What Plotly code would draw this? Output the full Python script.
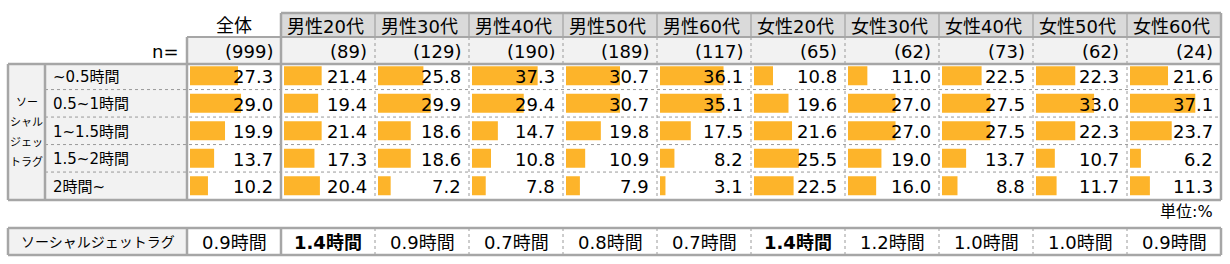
import plotly.graph_objects as go

# ---------------- data ----------------
columns = ["全体", "男性20代", "男性30代", "男性40代", "男性50代", "男性60代",
           "女性20代", "女性30代", "女性40代", "女性50代", "女性60代"]
n_values = [999, 89, 129, 190, 189, 117, 65, 62, 73, 62, 24]
row_labels = ["~0.5時間", "0.5~1時間", "1~1.5時間", "1.5~2時間", "2時間~"]
side_label = ["ソー", "シャル", "ジェッ", "トラグ"]

v_all = [27.3, 29.0, 19.9, 13.7, 10.2]
v_m20 = [21.4, 19.4, 21.4, 17.3, 20.4]
v_m30 = [25.8, 29.9, 18.6, 18.6, 7.2]
v_m40 = [37.3, 29.4, 14.7, 10.8, 7.8]
v_m50 = [30.7, 30.7, 19.8, 10.9, 7.9]
v_m60 = [36.1, 35.1, 17.5, 8.2, 3.1]
v_f20 = [10.8, 19.6, 21.6, 25.5, 22.5]
v_f30 = [11.0, 27.0, 27.0, 19.0, 16.0]
v_f40 = [22.5, 27.5, 27.5, 13.7, 8.8]
v_f50 = [22.3, 33.0, 22.3, 10.7, 11.7]
v_f60 = [21.6, 37.1, 23.7, 6.2, 11.3]
series = [v_all, v_m20, v_m30, v_m40, v_m50, v_m60, v_f20, v_f30, v_f40, v_f50, v_f60]

summary_label = "ソーシャルジェットラグ"
summary_hours = [0.9, 1.4, 0.9, 0.7, 0.8, 0.7, 1.4, 1.2, 1.0, 1.0, 0.9]
unit_text = "単位:%"

# ---------------- geometry / style ----------------
W, H = 1230, 264
COL0, COLW = 187, 94
LEFT, LABX = 8, 45
HDR_TOP, HDR_BOT, DATA_TOP, DATA_BOT = 13, 37, 64, 200
SUM_TOP, SUM_BOT = 228, 255
ROW0, ROWH = 75.8, 27.5
BAR_PAD, BAR_SPAN, AX_MAX = 3, 88, 50

FONT = "DejaVu Sans, Noto Sans CJK JP, sans-serif"
BAR_C = "#FDB42A"
LINE_C = "#A6A6A6"
DOT_C = "#9A9A9A"
HDR_FILL = "#DADADA"
LIGHT_FILL = "#F2F2F2"


def px(x):
    return x / W


def py(y):
    return 1 - y / H


def row_y(i):
    return ROW0 + ROWH * i


fig = go.Figure()
ncol = len(columns)

layout_axes = {}
for c, vals in enumerate(series):
    ax = "x" if c == 0 else f"x{c + 1}"
    left = COL0 + c * COLW + BAR_PAD
    fig.add_trace(go.Bar(
        x=vals, y=row_labels, orientation="h", xaxis=ax, yaxis="y",
        marker=dict(color=BAR_C, line=dict(width=0)), showlegend=False,
        hoverinfo="skip"))
    key = "xaxis" if c == 0 else f"xaxis{c + 1}"
    layout_axes[key] = dict(domain=[px(left), px(left + BAR_SPAN)], range=[0, AX_MAX],
                            visible=False, fixedrange=True, anchor="y")

ytop = row_y(0) - ROWH / 2
ybot = row_y(len(row_labels) - 1) + ROWH / 2
layout_axes["yaxis"] = dict(domain=[py(ybot), py(ytop)], type="category",
                            categoryorder="array", categoryarray=row_labels,
                            range=[len(row_labels) - 0.5, -0.5], visible=False,
                            fixedrange=True)

shapes = []


def rect(x0, y0, x1, y1, fill, line_w=0, line_c=LINE_C):
    shapes.append(dict(type="rect", xref="paper", yref="paper", x0=px(x0), x1=px(x1),
                       y0=py(y1), y1=py(y0), fillcolor=fill, layer="below",
                       line=dict(width=line_w, color=line_c)))


def line(x0, y0, x1, y1, w=2.5, c=LINE_C, dash="solid", layer="above"):
    shapes.append(dict(type="line", xref="paper", yref="paper", x0=px(x0), x1=px(x1),
                       y0=py(y0), y1=py(y1), layer=layer,
                       line=dict(width=w, color=c, dash=dash)))


RIGHT = COL0 + ncol * COLW
# fills
rect(COL0 + COLW, HDR_TOP, RIGHT, HDR_BOT, HDR_FILL)
rect(COL0, HDR_BOT, RIGHT, DATA_TOP, LIGHT_FILL)
rect(LEFT, DATA_TOP, COL0, DATA_BOT, LIGHT_FILL)
rect(LEFT, SUM_TOP, COL0, SUM_BOT, LIGHT_FILL)

# dotted lines
for i in range(len(row_labels) - 1):
    yy = row_y(i) + ROWH / 2
    line(LABX, yy, RIGHT, yy, w=1, c=DOT_C, dash="dot")
for c in range(2, ncol):
    xx = COL0 + c * COLW
    line(xx, HDR_BOT, xx, DATA_BOT, w=1, c=DOT_C, dash="dot")
    line(xx, SUM_TOP, xx, SUM_BOT, w=1, c=DOT_C, dash="dot")
    line(xx, HDR_TOP, xx, HDR_BOT, w=2, c="#B8B8B8")

# solid borders
line(COL0 + COLW, HDR_TOP, RIGHT, HDR_TOP)
line(COL0, HDR_BOT, RIGHT, HDR_BOT, w=2)
line(LEFT, DATA_TOP, RIGHT, DATA_TOP)
line(LEFT, DATA_BOT, RIGHT, DATA_BOT)
line(RIGHT, HDR_TOP, RIGHT, DATA_BOT)
line(COL0 + COLW, HDR_TOP, COL0 + COLW, DATA_BOT)
line(COL0, HDR_BOT, COL0, DATA_BOT)
line(LABX, DATA_TOP, LABX, DATA_BOT)
line(LEFT, DATA_TOP, LEFT, DATA_BOT)
# summary box
line(LEFT, SUM_TOP, RIGHT, SUM_TOP)
line(LEFT, SUM_BOT, RIGHT, SUM_BOT)
line(LEFT, SUM_TOP, LEFT, SUM_BOT)
line(RIGHT, SUM_TOP, RIGHT, SUM_BOT)
line(COL0, SUM_TOP, COL0, SUM_BOT)
line(COL0 + COLW, SUM_TOP, COL0 + COLW, SUM_BOT)

ann = []


def text(x, y, s, size=18, xanchor="center", yref="paper", color="#000000"):
    ann.append(dict(x=px(x), y=(py(y) if yref == "paper" else y), xref="paper", yref=yref,
                    text=s, showarrow=False, xanchor=xanchor, yanchor="middle",
                    font=dict(family=FONT, size=size, color=color)))


# headers
for c, name in enumerate(columns):
    cl = COL0 + c * COLW
    if c == 0:
        text(cl + COLW / 2, (HDR_TOP + HDR_BOT) / 2, name, 18)
    else:
        text(cl + 4, (HDR_TOP + HDR_BOT) / 2 + 1, name, 18, xanchor="left")
    text(cl + COLW - 6, (HDR_BOT + DATA_TOP) / 2 + 1, f"({n_values[c]})", 18, xanchor="right")
text(COL0 - 6, (HDR_BOT + DATA_TOP) / 2 + 1, "n=", 18, xanchor="right")

# values
for c, vals in enumerate(series):
    cl = COL0 + c * COLW
    for r, v in enumerate(vals):
        text(cl + COLW - 6, row_y(r) + 1, f"{v:.1f}", 18, xanchor="right")

# row labels
for r, lab in enumerate(row_labels):
    text(LABX + 6, row_y(r) + 1, lab, 15, xanchor="left")
for i, s in enumerate(side_label):
    text((LEFT + LABX) / 2, 102 + 20 * i, s, 11)

# unit
text(RIGHT - 6, 211, unit_text, 16, xanchor="right")

# summary
text((LEFT + COL0) / 2, (SUM_TOP + SUM_BOT) / 2, summary_label, 14)
mx = max(summary_hours)
for c, h in enumerate(summary_hours):
    cl = COL0 + c * COLW
    s = f"{h:.1f}時間"
    if h == mx:
        s = f"<b>{s}</b>"
    text(cl + COLW / 2, (SUM_TOP + SUM_BOT) / 2 + 1, s, 18)

fig.update_layout(
    width=W, height=H, margin=dict(l=0, r=0, t=0, b=0),
    paper_bgcolor="white", plot_bgcolor="rgba(0,0,0,0)",
    bargap=0.31, shapes=shapes, annotations=ann, showlegend=False,
    **layout_axes)

fig.write_html("out.html")
